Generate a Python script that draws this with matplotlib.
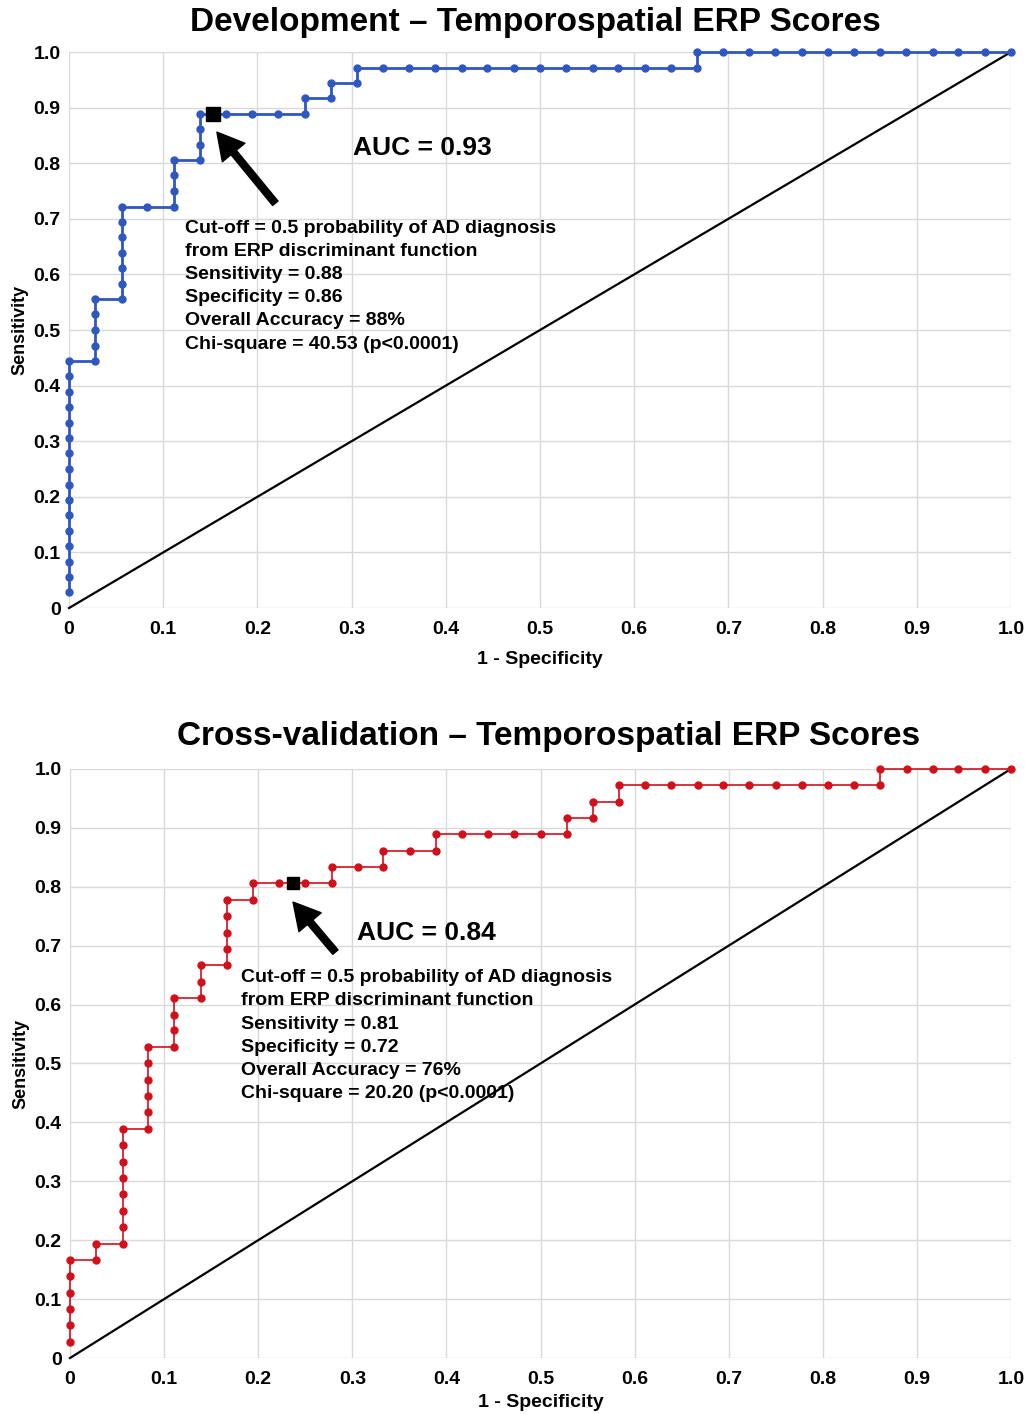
import matplotlib.pyplot as plt

plt.rcParams['font.family'] = ['Liberation Sans', 'DejaVu Sans']
plt.rcParams['font.weight'] = 'bold'

# ---- Development ROC points (1 - specificity, sensitivity) ----
dev_fpr = [0, 0, 0, 0, 0, 0, 0, 0, 0, 0, 0, 0, 0, 0, 0, 0,
           0.028, 0.028, 0.028, 0.028, 0.028,
           0.056, 0.056, 0.056, 0.056, 0.056, 0.056, 0.056,
           0.083,
           0.111, 0.111, 0.111, 0.111,
           0.139, 0.139, 0.139, 0.139,
           0.167, 0.194, 0.222,
           0.25, 0.25,
           0.278, 0.278,
           0.306, 0.306,
           0.333, 0.361, 0.389, 0.417, 0.444, 0.472, 0.5, 0.528, 0.556, 0.583, 0.611, 0.639,
           0.667, 0.667,
           0.694, 0.722, 0.75, 0.778, 0.806, 0.833, 0.861, 0.889, 0.917, 0.944, 0.972, 1.0]
dev_tpr = [0.028, 0.056, 0.083, 0.111, 0.139, 0.167, 0.194, 0.222, 0.25, 0.278, 0.306, 0.333, 0.361, 0.389, 0.417, 0.444,
           0.444, 0.472, 0.5, 0.528, 0.556,
           0.556, 0.583, 0.611, 0.639, 0.667, 0.694, 0.722,
           0.722,
           0.722, 0.75, 0.778, 0.806,
           0.806, 0.833, 0.861, 0.889,
           0.889, 0.889, 0.889,
           0.889, 0.917,
           0.917, 0.944,
           0.944, 0.972,
           0.972, 0.972, 0.972, 0.972, 0.972, 0.972, 0.972, 0.972, 0.972, 0.972, 0.972, 0.972,
           0.972, 1.0,
           1.0, 1.0, 1.0, 1.0, 1.0, 1.0, 1.0, 1.0, 1.0, 1.0, 1.0, 1.0]
dev_cutoff = (0.153, 0.889)

# ---- Cross-validation ROC points ----
cv_fpr = [0, 0, 0, 0, 0, 0,
          0.028, 0.028,
          0.056, 0.056, 0.056, 0.056, 0.056, 0.056, 0.056, 0.056,
          0.083, 0.083, 0.083, 0.083, 0.083, 0.083,
          0.111, 0.111, 0.111, 0.111,
          0.139, 0.139, 0.139,
          0.167, 0.167, 0.167, 0.167, 0.167,
          0.194, 0.194,
          0.222, 0.25,
          0.278, 0.278,
          0.306,
          0.333, 0.333,
          0.361,
          0.389, 0.389,
          0.417, 0.444, 0.472, 0.5,
          0.528, 0.528,
          0.556, 0.556,
          0.583, 0.583,
          0.611, 0.639, 0.667, 0.694, 0.722, 0.75, 0.778, 0.806, 0.833,
          0.861, 0.861,
          0.889, 0.917, 0.944, 0.972, 1.0]
cv_tpr = [0.028, 0.056, 0.083, 0.111, 0.139, 0.167,
          0.167, 0.194,
          0.194, 0.222, 0.25, 0.278, 0.306, 0.333, 0.361, 0.389,
          0.389, 0.417, 0.444, 0.472, 0.5, 0.528,
          0.528, 0.556, 0.583, 0.611,
          0.611, 0.639, 0.667,
          0.667, 0.694, 0.722, 0.75, 0.778,
          0.778, 0.806,
          0.806, 0.806,
          0.806, 0.833,
          0.833,
          0.833, 0.861,
          0.861,
          0.861, 0.889,
          0.889, 0.889, 0.889, 0.889,
          0.889, 0.917,
          0.917, 0.944,
          0.944, 0.972,
          0.972, 0.972, 0.972, 0.972, 0.972, 0.972, 0.972, 0.972, 0.972,
          0.972, 1.0,
          1.0, 1.0, 1.0, 1.0, 1.0]
cv_cutoff = (0.237, 0.806)

ticks = [0, 0.1, 0.2, 0.3, 0.4, 0.5, 0.6, 0.7, 0.8, 0.9, 1.0]
tick_labels = ["0", "0.1", "0.2", "0.3", "0.4", "0.5", "0.6", "0.7", "0.8", "0.9", "1.0"]

dev_text = ("Cut-off = 0.5 probability of AD diagnosis\nfrom ERP discriminant function\n"
            "Sensitivity = 0.88\nSpecificity = 0.86\nOverall Accuracy = 88%\n"
            "Chi-square = 40.53 (p<0.0001)")
cv_text = ("Cut-off = 0.5 probability of AD diagnosis\nfrom ERP discriminant function\n"
           "Sensitivity = 0.81\nSpecificity = 0.72\nOverall Accuracy = 76%\n"
           "Chi-square = 20.20 (p<0.0001)")


def draw_roc(ax, fpr, tpr, color, lw, cutoff, sq_size, arrow_tip, arrow_tail,
             auc_text, auc_pos, info_text, info_pos, xlabel_pad):
    ax.set_xlim(0, 1)
    ax.set_ylim(0, 1)
    ax.set_xticks(ticks)
    ax.set_yticks(ticks)
    ax.set_xticklabels(tick_labels)
    ax.set_yticklabels(tick_labels)
    ax.tick_params(length=0, labelsize=14)
    ax.tick_params(axis="x", pad=9)
    ax.tick_params(axis="y", pad=6)
    for s in ax.spines.values():
        s.set_visible(False)
    ax.grid(True, color="#d9d9d9", linewidth=1.0)
    ax.set_axisbelow(True)

    # chance line
    ax.plot([0, 1], [0, 1], color="black", lw=1.6, zorder=2, clip_on=False)
    ax.plot(fpr, tpr, color=color, lw=lw, marker="o", ms=5, zorder=3, clip_on=False)
    ax.plot([cutoff[0]], [cutoff[1]], marker="s", color="black", ms=sq_size, ls="none", zorder=4)

    ax.annotate("", xy=arrow_tip, xytext=arrow_tail,
                arrowprops=dict(facecolor="black", edgecolor="black", width=5,
                                headwidth=21, headlength=19, shrink=0))
    ax.text(auc_pos[0], auc_pos[1], auc_text, fontsize=19, fontweight="bold", va="center", ha="left")
    ax.text(info_pos[0], info_pos[1], info_text, fontsize=14, fontweight="bold",
            va="center", ha="left", linespacing=1.48)

    ax.set_xlabel("1 - Specificity", fontsize=14, fontweight="bold", labelpad=xlabel_pad)
    ax.set_ylabel("Sensitivity", fontsize=13, fontweight="bold", labelpad=4)


fig = plt.figure(figsize=(10.27, 14.14), dpi=100)
ax1 = fig.add_axes([0.0672, 0.570, 0.9172, 0.3932])
ax2 = fig.add_axes([0.0682, 0.0396, 0.9162, 0.4166])

draw_roc(ax1, dev_fpr, dev_tpr, "#2f57c1", 2.0, dev_cutoff, 10,
         (0.157, 0.856), (0.219, 0.728), "AUC = 0.93", (0.3015, 0.827),
         dev_text, (0.123, 0.579), 10)
draw_roc(ax2, cv_fpr, cv_tpr, "#d0111b", 1.2, cv_cutoff, 9,
         (0.237, 0.774), (0.282, 0.689), "AUC = 0.84", (0.305, 0.7216),
         cv_text, (0.1817, 0.547), 5)

fig.text(0.521, 1 - 23 / 1414, "Development – Temporospatial ERP Scores",
         fontsize=24, fontweight="bold", ha="center", va="center")
fig.text(0.534, 1 - 736 / 1414, "Cross-validation – Temporospatial ERP Scores",
         fontsize=24, fontweight="bold", ha="center", va="center")

fig.savefig("out.png", dpi=100, facecolor="white")
